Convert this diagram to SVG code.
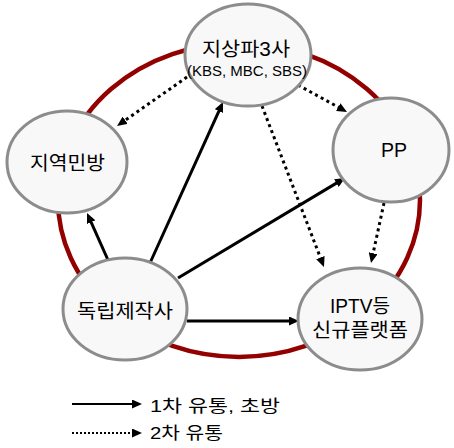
<svg xmlns="http://www.w3.org/2000/svg" width="454" height="448" viewBox="0 0 454 448">
<defs>
<style>
.node ellipse{fill:#f8f8f8;stroke:#8c8c8c;stroke-width:3}
.lbl{font-family:"Liberation Sans","Noto Sans CJK KR",sans-serif;font-size:19.5px;fill:#000;text-anchor:middle}
.sub{font-family:"Liberation Sans","Noto Sans CJK KR",sans-serif;font-size:14px;fill:#000;text-anchor:middle}
.leg{font-family:"Liberation Sans","Noto Sans CJK KR",sans-serif;font-size:17px;fill:#000}
.solid{stroke:#000;stroke-width:3;fill:none;marker-end:url(#ah)}
.dot{stroke:#000;stroke-width:3;fill:none;stroke-dasharray:3 3.5;marker-end:url(#ah)}
</style>
<marker id="ah" markerUnits="userSpaceOnUse" markerWidth="10" markerHeight="9" refX="2" refY="4.5" orient="auto">
<path d="M0,0 L10,4.5 L0,9 z" fill="#000"/>
</marker>
</defs>
<rect width="454" height="448" fill="#fff"/>
<ellipse id="ring" cx="239" cy="200" rx="181" ry="157" fill="none" stroke="#930000" stroke-width="4.5"/>
<g id="connectors">
<path class="solid" d="M108,260 L90.3,220.3"/>
<path class="solid" d="M150,263 L219.7,109.3"/>
<path class="solid" d="M178,278 L338.1,182.1"/>
<path class="solid" d="M187,321 L291,321"/>
<path class="dot" d="M187,77 L123.6,121.4"/>
<path class="dot" d="M298,85 L340,108.1"/>
<path class="dot" d="M262,106 L321.1,259.5"/>
<path class="dot" d="M384,203 L372.7,255.2"/>
</g>
<g id="n-terrestrial" class="node">
<ellipse cx="248" cy="55" rx="63" ry="51"/>
<text class="lbl" x="246" y="56" textLength="88" lengthAdjust="spacingAndGlyphs">지상파3사</text>
<text class="sub" x="247" y="76" textLength="120" lengthAdjust="spacingAndGlyphs">(KBS, MBC, SBS)</text>
</g>
<g id="n-local" class="node">
<ellipse cx="67" cy="162" rx="60" ry="51"/>
<text class="lbl" x="67.5" y="170" textLength="75" lengthAdjust="spacingAndGlyphs">지역민방</text>
</g>
<g id="n-pp" class="node">
<ellipse cx="391" cy="150" rx="58" ry="52"/>
<text class="lbl" x="394" y="157">PP</text>
</g>
<g id="n-indep" class="node">
<ellipse cx="125" cy="309" rx="62" ry="51"/>
<text class="lbl" x="125" y="318" textLength="96" lengthAdjust="spacingAndGlyphs">독립제작사</text>
</g>
<g id="n-iptv" class="node">
<ellipse cx="360" cy="319" rx="62" ry="51"/>
<text class="lbl" x="360" y="313" textLength="60" lengthAdjust="spacingAndGlyphs">IPTV등</text>
<text class="lbl" x="360" y="337" textLength="96" lengthAdjust="spacingAndGlyphs">신규플랫폼</text>
</g>
<g id="legend">
<path d="M72,404 L134,404" stroke="#000" stroke-width="2" marker-end="url(#ah)"/>
<path d="M72,433 L134,433" stroke="#000" stroke-width="2" stroke-dasharray="2 2" marker-end="url(#ah)"/>
<text class="leg" x="150" y="412" textLength="130" lengthAdjust="spacingAndGlyphs">1차 유통, 초방</text>
<text class="leg" x="150" y="439" textLength="73" lengthAdjust="spacingAndGlyphs">2차 유통</text>
</g>
</svg>
